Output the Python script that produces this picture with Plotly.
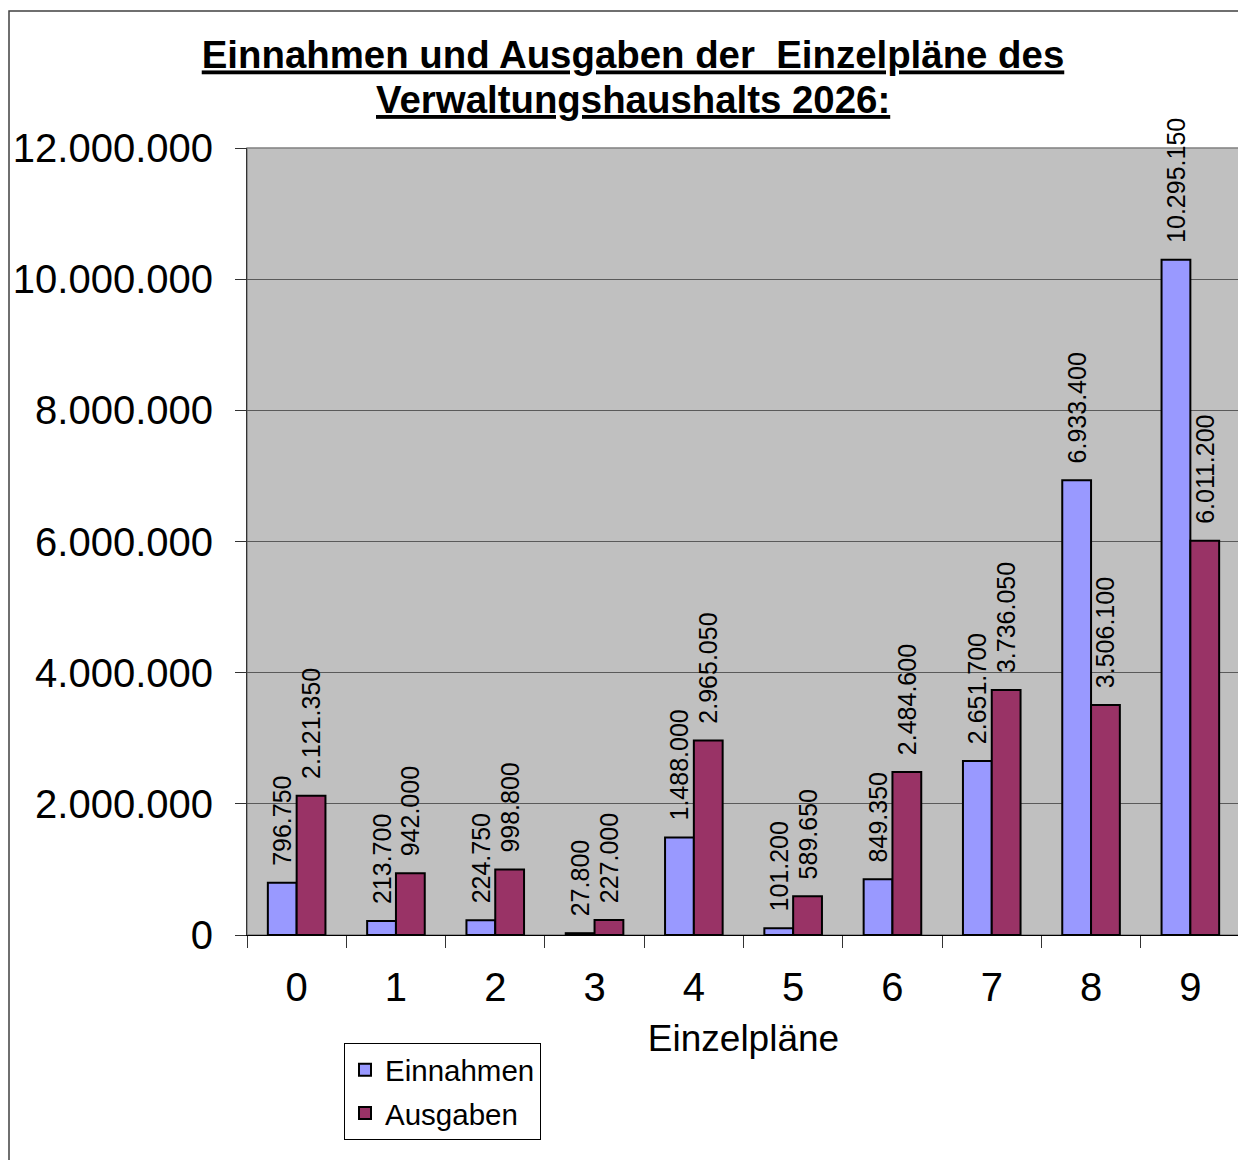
import plotly.graph_objects as go

categories = ["0", "1", "2", "3", "4", "5", "6", "7", "8", "9"]
einnahmen = [796750, 213700, 224750, 27800, 1488000, 101200, 849350, 2651700, 6933400, 10295150]
ausgaben = [2121350, 942000, 998800, 227000, 2965050, 589650, 2484600, 3736050, 3506100, 6011200]
y_ticks = [0, 2000000, 4000000, 6000000, 8000000, 10000000, 12000000]
title_lines = ["Einnahmen und Ausgaben der  Einzelpläne des", "Verwaltungshaushalts 2026:"]

FONT = "Liberation Sans, Arial, sans-serif"
label_tmpl = "\u00a0\u00a0%{y:,.0f}"

# page body has an 8px margin; plot area in page: x 247..1240, y 148..935
OFF = 8
L, T, W_PLOT, H_PLOT = 247 - OFF, 148 - OFF, 993, 787


def px_x(page_x):
    return (page_x - OFF - L) / W_PLOT


def px_y(page_y):
    return (T + H_PLOT - (page_y - OFF)) / H_PLOT


fig = go.Figure()
fig.add_trace(go.Bar(
    name="Einnahmen", x=categories, y=einnahmen, legendgroup="e",
    marker=dict(color="#9999FF", line=dict(color="black", width=2)),
    texttemplate=label_tmpl, textposition="outside", textangle=-90,
    constraintext="none", cliponaxis=False,
    textfont=dict(family=FONT, size=25, color="black"),
))
fig.add_trace(go.Bar(
    name="Ausgaben", x=categories, y=ausgaben, legendgroup="a",
    marker=dict(color="#993366", line=dict(color="black", width=2)),
    texttemplate=label_tmpl, textposition="outside", textangle=-90,
    constraintext="none", cliponaxis=False,
    textfont=dict(family=FONT, size=25, color="black"),
))

fig.update_layout(
    width=1246, height=1160,
    margin=dict(l=L, r=1246 - L - W_PLOT, t=T, b=1160 - T - H_PLOT, autoexpand=False),
    paper_bgcolor="white",
    plot_bgcolor="#C0C0C0",
    separators=",.",
    barmode="group",
    bargap=0.42,
    bargroupgap=0,
    font=dict(family=FONT, color="black"),
    title=dict(
        text="<b><u>" + title_lines[0] + "</u></b>",
        x=(633 - OFF) / 1246, xanchor="center", xref="container",
        y=1 - (55 - OFF) / 1160, yanchor="middle", yref="container",
        font=dict(family=FONT, size=38.4, color="black"),
    ),
    annotations=[
        dict(text="<b><u>" + title_lines[1] + "</u></b>", xref="paper", yref="paper",
             x=px_x(633), y=px_y(100), xanchor="center", yanchor="middle",
             showarrow=False, font=dict(family=FONT, size=38.4, color="black")),
    ],
    showlegend=True,
    legend=dict(
        x=px_x(344), y=px_y(1043), xanchor="left", yanchor="top",
        bgcolor="white", bordercolor="black", borderwidth=1,
        font=dict(family=FONT, size=29.5, color="black"),
        traceorder="grouped", tracegroupgap=2,
    ),
    xaxis=dict(
        type="category",
        automargin=False,
        tickson="boundaries",
        ticks="outside", ticklen=12, tickcolor="#333333",
        showline=True, linecolor="black", linewidth=1,
        showgrid=False,
        tickfont=dict(family=FONT, size=40, color="black"),
        ticklabelstandoff=17,
        title=dict(text="Einzelpläne", font=dict(family=FONT, size=37, color="black"), standoff=17),
    ),
    yaxis=dict(
        range=[0, 12000000],
        automargin=False,
        tickvals=y_ticks,
        tickformat=",.0f",
        ticks="outside", ticklen=11, tickcolor="#333333",
        showline=True, linecolor="#333333", linewidth=1,
        showgrid=True, gridcolor="#5a5a5a", gridwidth=1,
        zeroline=False,
        tickfont=dict(family=FONT, size=40, color="black"),
        ticklabelstandoff=14,
    ),
    shapes=[
        dict(type="rect", xref="paper", yref="paper", x0=0, x1=1, y0=0, y1=1,
             line=dict(color="#808080", width=1.5), layer="below"),
        dict(type="rect", xref="paper", yref="paper",
             x0=px_x(9), x1=px_x(1280),
             y0=px_y(1200), y1=px_y(11),
             line=dict(color="#404040", width=1.5), layer="above"),
    ],
)

fig.write_html("out.html")
